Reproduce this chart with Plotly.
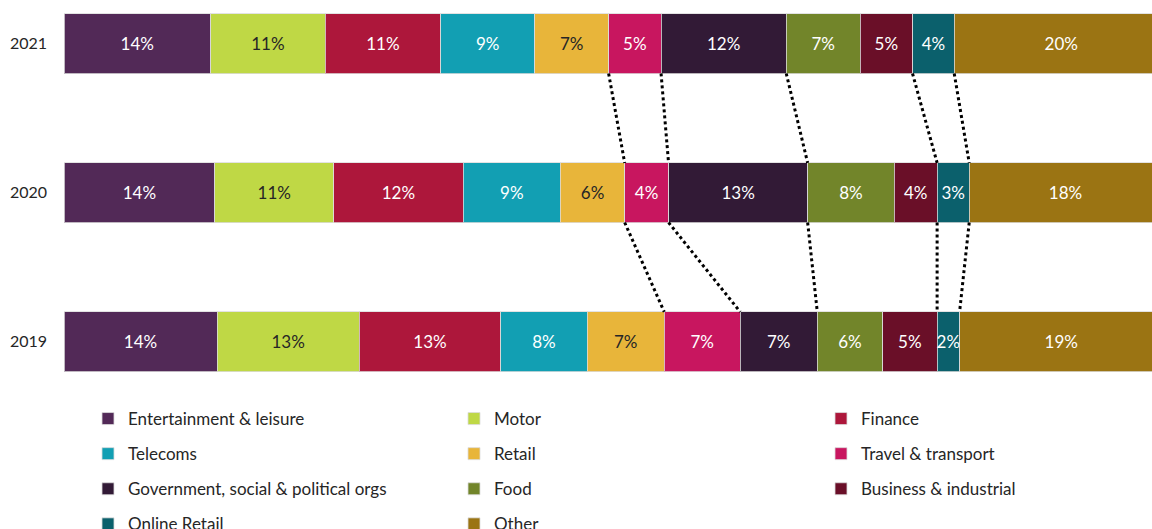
import numpy as np
import plotly.graph_objects as go

years = ["2021", "2020", "2019"]
sectors = [
    "Entertainment & leisure", "Motor", "Finance",
    "Telecoms", "Retail", "Travel & transport",
    "Government, social & political orgs", "Food", "Business & industrial",
    "Online Retail", "Other",
]
values_2021 = [13.7, 10.7, 10.8, 8.8, 6.9, 4.9, 11.7, 6.9, 4.9, 3.9, 20.0]
values_2020 = [14.1, 11.1, 12.1, 9.1, 6.0, 4.1, 13.0, 8.1, 4.0, 3.0, 18.0]
values_2019 = [14.3, 13.3, 13.2, 8.1, 7.2, 7.1, 7.2, 6.1, 5.1, 2.1, 19.0]
values_by_year = {"2021": values_2021, "2020": values_2020, "2019": values_2019}

colors = ["#522957", "#bfd845", "#ad173b", "#129fb3", "#e8b53a", "#c8165f",
          "#321a36", "#72852a", "#6a0f28", "#0b606c", "#9b7413"]
text_colors = ["#ffffff", "#262626", "#ffffff", "#ffffff", "#262626", "#ffffff",
               "#ffffff", "#ffffff", "#ffffff", "#ffffff", "#ffffff"]
# segments whose right edge is linked between consecutive years by dotted lines
linked = ["Retail", "Travel & transport", "Government, social & political orgs",
          "Business & industrial", "Online Retail"]

FONT = "Lato"
cat_order = years[::-1]
bar_w = 0.4

fig = go.Figure()
legend_names = ["legend", "legend2", "legend3"]  # one legend per column
for i, s in enumerate(sectors):
    fig.add_trace(go.Bar(
        name=s, orientation="h", y=years,
        x=[values_by_year[y][i] for y in years],
        marker=dict(color=colors[i], line=dict(color="rgba(220,220,220,0.8)", width=1)),
        width=bar_w,
        texttemplate="%{x:.0f}%", textposition="inside", insidetextanchor="middle",
        textangle=0, constraintext="none",
        insidetextfont=dict(family=FONT, size=17, color=text_colors[i]),
        legend=legend_names[i % 3], legendgroup=s, hoverinfo="skip",
    ))

shapes = []
for upper, lower in zip(years[:-1], years[1:]):
    cu = np.cumsum(values_by_year[upper])
    cl = np.cumsum(values_by_year[lower])
    for name in linked:
        k = sectors.index(name)
        shapes.append(dict(
            type="line", xref="x", yref="y",
            x0=float(cu[k]), y0=cat_order.index(upper) - bar_w / 2,
            x1=float(cl[k]), y1=cat_order.index(lower) + bar_w / 2,
            line=dict(color="#000000", width=3, dash="dot"), layer="above",
        ))

W, H = 1152, 529
ml, mt, mb = 64, 0, 139
plot_h = H - mt - mb
px_per_pct = 10.7
x_max = (W - ml) / px_per_pct
px_per_cat = 149
y_top = 2 + 43.7 / px_per_cat
y_bot = y_top - plot_h / px_per_cat

layout_legends = {}
col_x = [88, 454, 821]
legend_top = 401
for c, ln in enumerate(legend_names):
    layout_legends[ln] = dict(
        orientation="v", x=(col_x[c] - ml) / (W - ml), xanchor="left",
        y=(plot_h - (legend_top - mt)) / plot_h, yanchor="top",
        tracegroupgap=10, traceorder="grouped",
        font=dict(family=FONT, size=17, color="#262626"),
        bgcolor="rgba(0,0,0,0)",
    )

fig.update_layout(
    width=W, height=H, barmode="stack",
    margin=dict(l=ml, r=0, t=mt, b=mb, autoexpand=False),
    paper_bgcolor="white", plot_bgcolor="white",
    showlegend=True,
    xaxis=dict(range=[0, x_max], visible=False, fixedrange=True),
    yaxis=dict(type="category", categoryorder="array", categoryarray=cat_order,
               range=[y_bot, y_top], showgrid=False, zeroline=False, showline=False,
               ticks="", ticklabelstandoff=16, fixedrange=True,
               tickfont=dict(family=FONT, size=16, color="#262626")),
    shapes=shapes,
    font=dict(family=FONT, size=16, color="#262626"),
    **layout_legends,
)

fig.write_html(
    "out.html",
    config={"displayModeBar": False},
    post_script="document.body.style.margin='0';document.body.style.overflow='hidden';",
)
